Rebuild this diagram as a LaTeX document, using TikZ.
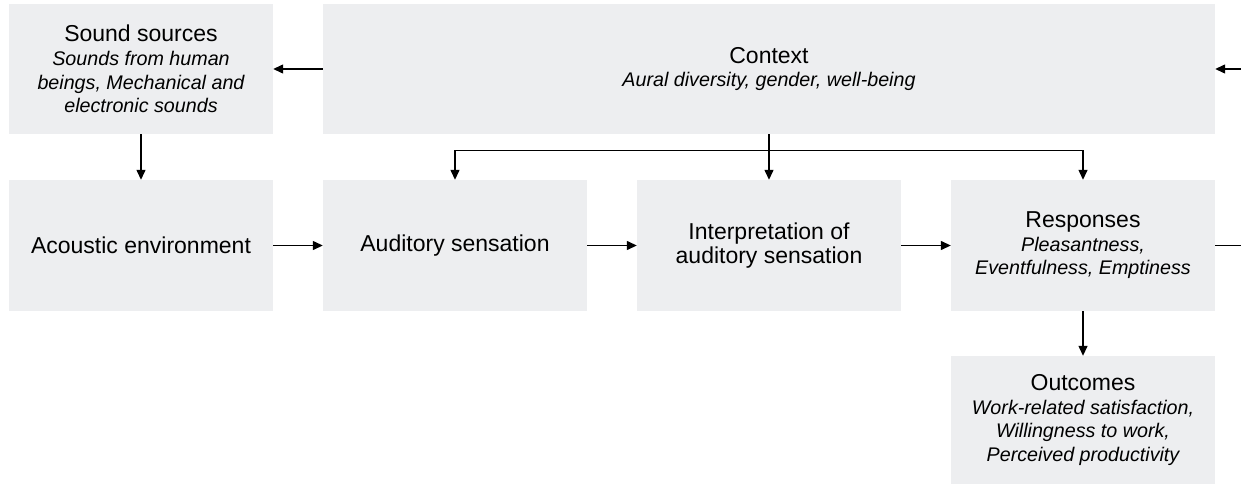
\documentclass[tikz,border=0pt]{standalone}
\usepackage{fontspec}
\setmainfont{Liberation Sans}
\usetikzlibrary{arrows.meta}
\definecolor{boxgray}{RGB}{237,238,240}
\newcommand\itl[1]{{\fontsize{19.7}{23.6}\selectfont\itshape #1}}
\tikzset{
  box/.style={fill=boxgray, draw=none, inner sep=0pt, align=center,
    font=\fontsize{23}{23.6}\selectfont},
  arr/.style={line width=1.3pt, -{Triangle[length=10pt,width=9pt]}},
  ln/.style={line width=1.3pt}
}
\begin{document}
\begin{tikzpicture}[x=1pt,y=-1pt]
\useasboundingbox (0,0) rectangle (1241,484);
\node[box, minimum width=264pt, minimum height=130pt] (src) at (141,69)
  {Sound sources\\\itl{Sounds from human}\\\itl{beings, Mechanical and}\\\itl{electronic sounds}};
\node[box, minimum width=892pt, minimum height=130pt] (ctx) at (769,69)
  {Context\\\itl{Aural diversity, gender, well-being}};
\node[box, minimum width=264pt, minimum height=131pt] (ac) at (141,245.5)
  {Acoustic environment};
\node[box, minimum width=264pt, minimum height=131pt] (aud) at (455,245.5)
  {Auditory sensation};
\node[box, minimum width=264pt, minimum height=131pt] (int) at (769,245.5)
  {Interpretation of\\auditory sensation};
\node[box, minimum width=264pt, minimum height=131pt] (resp) at (1083,245.5)
  {Responses\\\itl{Pleasantness,}\\\itl{Eventfulness, Emptiness}};
\node[box, minimum width=264pt, minimum height=128pt] (out) at (1083,420)
  {Outcomes\\\itl{Work-related satisfaction,}\\\itl{Willingness to work,}\\\itl{Perceived productivity}};
\coordinate (rin) at (1241,69);
\coordinate (rout) at (1241,245.5);
\draw[arr] (ctx.west) -- (src.east);
\draw[arr] (rin) -- (ctx.east);
\draw[arr] (src.south) -- (ac.north);
\draw[arr] (ac.east) -- (aud.west);
\draw[arr] (aud.east) -- (int.west);
\draw[arr] (int.east) -- (resp.west);
\draw[ln] (resp.east) -- (rout);
\draw[arr] (resp.south) -- (out.north);
\draw[arr] (ctx.south) -- (int.north);
\draw[arr] (ctx.south) -- ++(0,16.5) -| (aud.north);
\draw[arr] (ctx.south) -- ++(0,16.5) -| (resp.north);
\end{tikzpicture}
\end{document}
